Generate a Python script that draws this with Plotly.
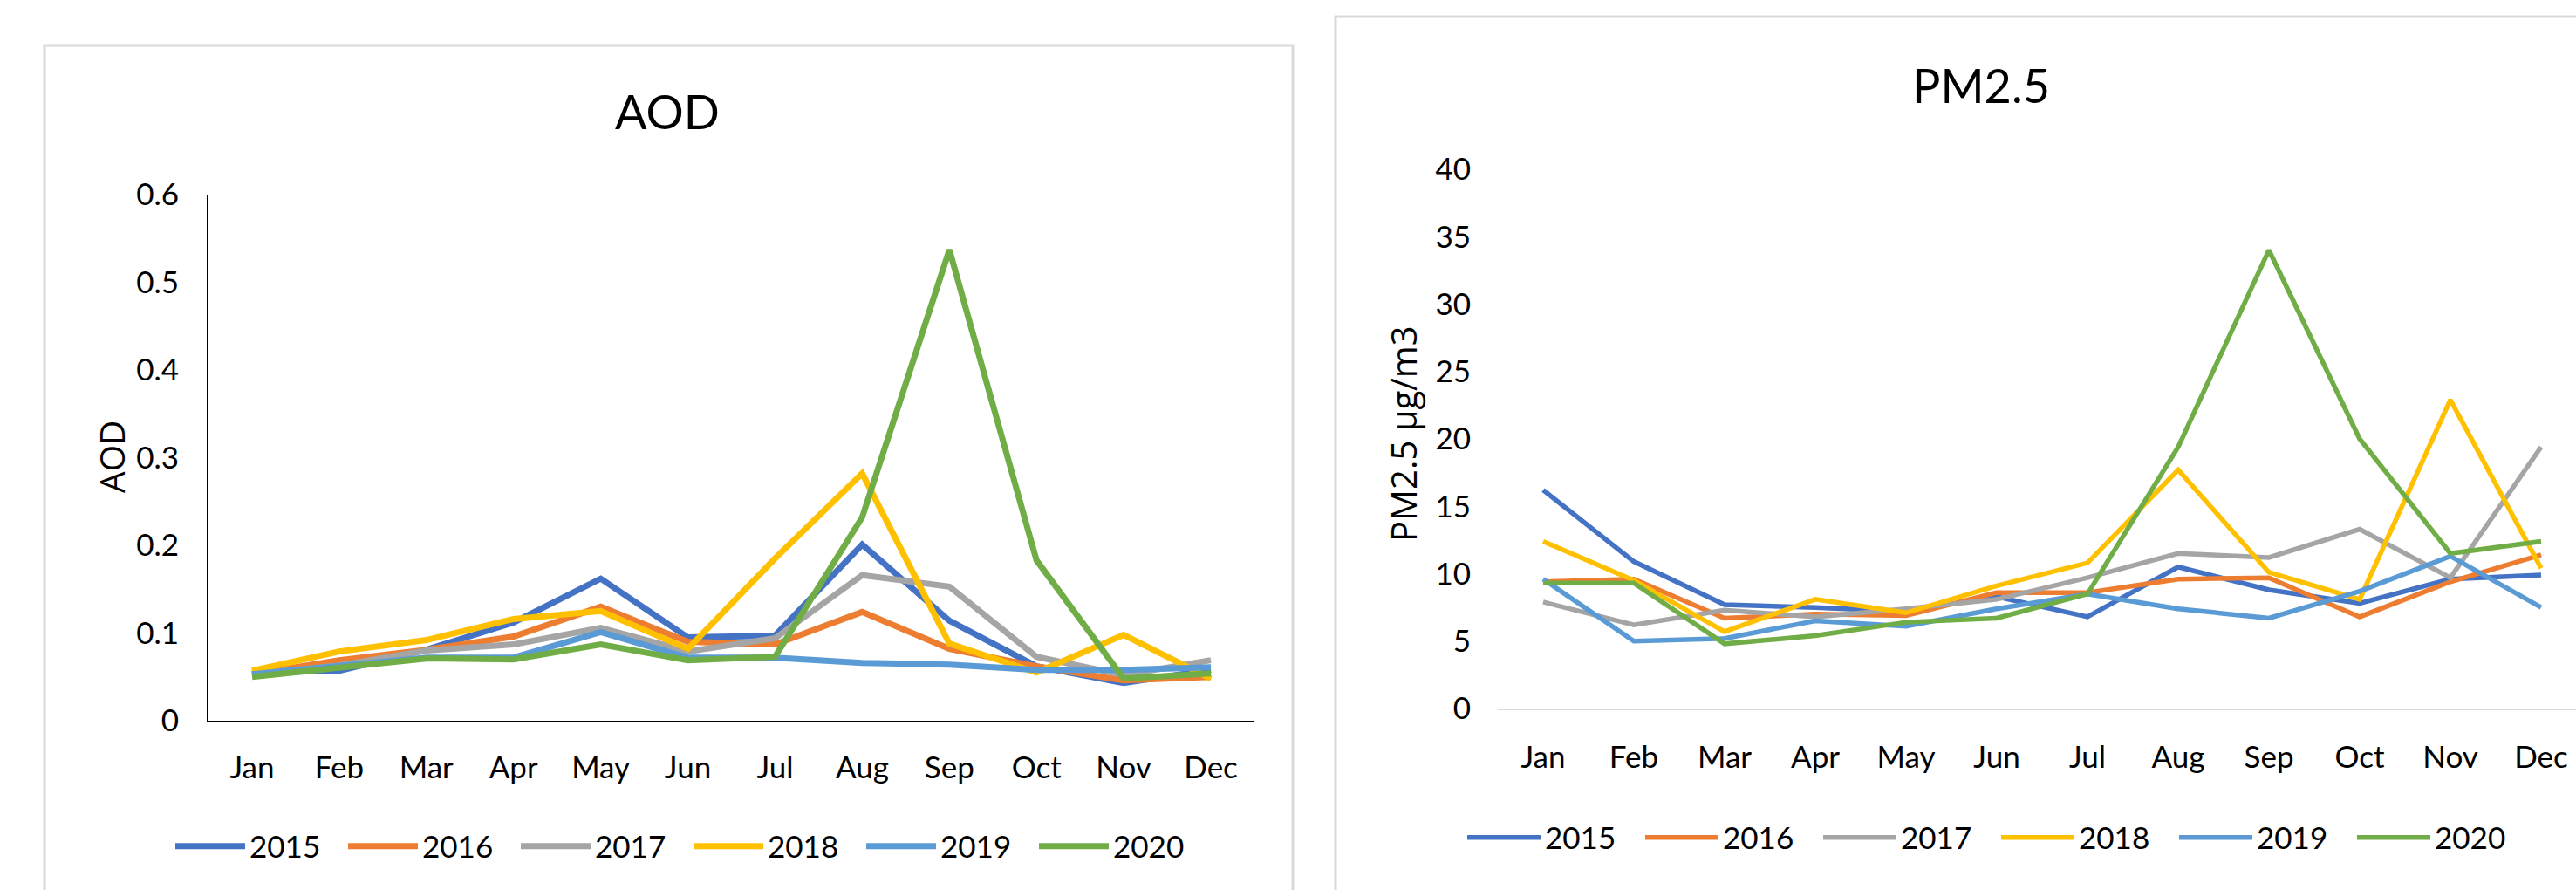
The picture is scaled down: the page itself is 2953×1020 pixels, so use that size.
import plotly.graph_objects as go

W, H = 2953, 1020

months = ["Jan", "Feb", "Mar", "Apr", "May", "Jun",
          "Jul", "Aug", "Sep", "Oct", "Nov", "Dec"]
years = ["2015", "2016", "2017", "2018", "2019", "2020"]
colors = ["#4472C4", "#ED7D31", "#A5A5A5", "#FFC000", "#5B9BD5", "#70AD47"]

# Monthly mean aerosol optical depth
aod_2015 = [0.055, 0.057, 0.081, 0.112, 0.162, 0.095, 0.097, 0.201, 0.114, 0.062, 0.043, 0.058]
aod_2016 = [0.053, 0.069, 0.081, 0.096, 0.130, 0.090, 0.087, 0.124, 0.082, 0.062, 0.046, 0.050]
aod_2017 = [0.053, 0.063, 0.080, 0.087, 0.106, 0.079, 0.094, 0.166, 0.153, 0.073, 0.052, 0.069]
aod_2018 = [0.057, 0.079, 0.092, 0.116, 0.125, 0.082, 0.185, 0.282, 0.088, 0.055, 0.098, 0.048]
aod_2019 = [0.053, 0.062, 0.072, 0.072, 0.101, 0.072, 0.072, 0.066, 0.064, 0.058, 0.058, 0.061]
aod_2020 = [0.050, 0.061, 0.071, 0.070, 0.087, 0.069, 0.073, 0.232, 0.537, 0.183, 0.048, 0.054]

# Monthly mean PM2.5 concentration (µg/m3)
pm_2015 = [16.2, 10.9, 7.7, 7.5, 7.2, 8.3, 6.8, 10.5, 8.8, 7.8, 9.6, 9.9]
pm_2016 = [9.4, 9.6, 6.7, 7.0, 6.9, 8.6, 8.6, 9.6, 9.7, 6.8, 9.4, 11.4]
pm_2017 = [7.9, 6.2, 7.3, 6.8, 7.4, 8.1, 9.7, 11.5, 11.2, 13.3, 9.7, 19.4]
pm_2018 = [12.4, 9.5, 5.7, 8.1, 7.1, 9.1, 10.8, 17.7, 10.1, 8.1, 22.9, 10.4]
pm_2019 = [9.6, 5.0, 5.2, 6.5, 6.1, 7.4, 8.5, 7.4, 6.7, 8.7, 11.3, 7.5]
pm_2020 = [9.3, 9.3, 4.8, 5.4, 6.4, 6.7, 8.5, 19.4, 34.0, 20.0, 11.5, 12.4]

aod_series = [aod_2015, aod_2016, aod_2017, aod_2018, aod_2019, aod_2020]
pm_series = [pm_2015, pm_2016, pm_2017, pm_2018, pm_2019, pm_2020]

aod_ticks = [0, 0.1, 0.2, 0.3, 0.4, 0.5, 0.6]
aod_ticktext = ["0", "0.1", "0.2", "0.3", "0.4", "0.5", "0.6"]
pm_ticks = [0, 5, 10, 15, 20, 25, 30, 35, 40]

NARROW = "Lato, Roboto, Liberation Sans, sans-serif"
WIDE = "Open Sans, DejaVu Sans, sans-serif"


def px(x):
    return x / W


def py(y):
    return 1 - y / H


fig = go.Figure()

for name, col, vals in zip(years, colors, aod_series):
    fig.add_trace(go.Scatter(
        x=months, y=vals, name=name, mode="lines",
        line=dict(color=col, width=7),
        xaxis="x", yaxis="y", legend="legend",
    ))

for name, col, vals in zip(years, colors, pm_series):
    fig.add_trace(go.Scatter(
        x=months, y=vals, name=name, mode="lines",
        line=dict(color=col, width=5.5),
        xaxis="x2", yaxis="y2", legend="legend2",
    ))

tickfont = dict(family=NARROW, size=35, color="#000000")

fig.update_layout(
    width=W, height=H,
    margin=dict(l=0, r=0, t=0, b=0, autoexpand=False),
    paper_bgcolor="white", plot_bgcolor="white",
    showlegend=True,
    xaxis=dict(
        domain=[px(239), px(1438)], anchor="y",
        type="category", categoryorder="array", categoryarray=months,
        range=[-0.5, 11.5],
        showgrid=False, zeroline=False,
        showline=True, linecolor="#000000", linewidth=2,
        ticks="", tickfont=tickfont, ticklabelstandoff=22,
        fixedrange=True, automargin=False,
    ),
    yaxis=dict(
        domain=[py(826), py(223)], anchor="x",
        range=[0, 0.6],
        tickvals=aod_ticks, ticktext=aod_ticktext,
        showgrid=False, zeroline=False,
        showline=True, linecolor="#000000", linewidth=2,
        ticks="", tickfont=tickfont, ticklabelstandoff=25,
        fixedrange=True, automargin=False,
    ),
    xaxis2=dict(
        domain=[px(1717), 1.0], anchor="y2",
        type="category", categoryorder="array", categoryarray=months,
        range=[-0.5, 11.5 - (1717 + 12 * 104 - W) / 104],
        showgrid=False, zeroline=False,
        showline=True, linecolor="#D9D9D9", linewidth=2,
        ticks="", tickfont=tickfont, ticklabelstandoff=24,
        fixedrange=True, automargin=False,
    ),
    yaxis2=dict(
        domain=[py(812), py(194)], anchor="x2",
        range=[0, 40],
        tickvals=pm_ticks,
        showgrid=False, zeroline=False, showline=False,
        ticks="", tickfont=tickfont, ticklabelstandoff=30,
        fixedrange=True, automargin=False,
    ),
    legend=dict(
        orientation="h", x=px(196), y=py(970), xanchor="left", yanchor="middle",
        font=dict(family=NARROW, size=35, color="#000000"),
        itemwidth=80, entrywidth=103, entrywidthmode="pixels",
        bgcolor="rgba(0,0,0,0)", tracegroupgap=0,
    ),
    legend2=dict(
        orientation="h", x=px(1677), y=py(960), xanchor="left", yanchor="middle",
        font=dict(family=NARROW, size=35, color="#000000"),
        itemwidth=84, entrywidth=105, entrywidthmode="pixels",
        bgcolor="rgba(0,0,0,0)", tracegroupgap=0,
    ),
)

# Chart-area frames around each panel
fig.add_shape(type="rect", xref="paper", yref="paper",
              x0=px(51), x1=px(1482), y0=py(1040), y1=py(52),
              line=dict(color="#D9D9D9", width=3), fillcolor="rgba(0,0,0,0)",
              layer="below")
fig.add_shape(type="rect", xref="paper", yref="paper",
              x0=px(1531), x1=px(2980), y0=py(1040), y1=py(19),
              line=dict(color="#D9D9D9", width=3), fillcolor="rgba(0,0,0,0)",
              layer="below")

# Panel titles and value-axis titles
fig.add_annotation(text="AOD", xref="paper", yref="paper",
                   x=px(765), y=py(127), xanchor="center", yanchor="middle",
                   showarrow=False, font=dict(family=NARROW, size=54, color="#000000"))
fig.add_annotation(text="PM2.5", xref="paper", yref="paper",
                   x=px(2271), y=py(98), xanchor="center", yanchor="middle",
                   showarrow=False, font=dict(family=NARROW, size=54, color="#000000"))
fig.add_annotation(text="AOD", xref="paper", yref="paper",
                   x=px(127), y=py(524), xanchor="center", yanchor="middle",
                   textangle=-90, showarrow=False,
                   font=dict(family=WIDE, size=39, color="#000000"))
fig.add_annotation(text="PM2.5 µg/m3", xref="paper", yref="paper",
                   x=px(1608), y=py(497), xanchor="center", yanchor="middle",
                   textangle=-90, showarrow=False,
                   font=dict(family=WIDE, size=40, color="#000000"))

fig.write_html("out.html")
